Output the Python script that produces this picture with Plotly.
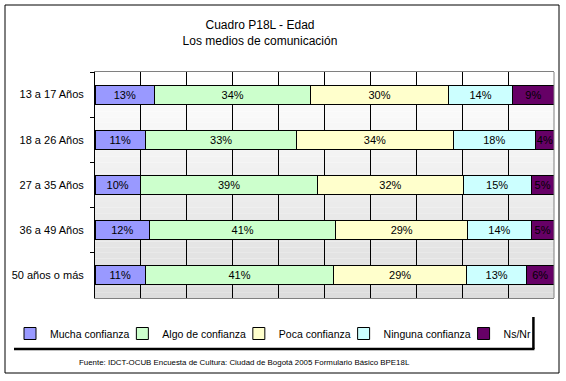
import plotly.graph_objects as go

categories = ["13 a 17 Años", "18 a 26 Años", "27 a 35 Años", "36 a 49 Años", "50 años o más"]
series_names = ["Mucha confianza", "Algo de confianza", "Poca confianza", "Ninguna confianza", "Ns/Nr"]
mucha = [13, 11, 10, 12, 11]
algo = [34, 33, 39, 41, 41]
poca = [30, 34, 32, 29, 29]
ninguna = [14, 18, 15, 14, 13]
nsnr = [9, 4, 5, 5, 6]
series_values = [mucha, algo, poca, ninguna, nsnr]
colors = ["#9999FF", "#CCFFCC", "#FFFFCC", "#CCFFFF", "#660066"]

W, H = 566, 381
ML, MR, MT, MB = 95, 12, 72, 83
PW, PH = W - ML - MR, H - MT - MB

def px_x(x):
    return (x - ML) / PW

def px_y(y):
    return (H - MB - y) / PH

FONT = "Arial, Liberation Sans, sans-serif"
LEG_FS = 10.5
# approximate Liberation Sans advance widths (em units) for legend text sizing
_adv = {"M": .833, "u": .556, "c": .5, "h": .556, "a": .556, " ": .278, "o": .556,
        "n": .556, "f": .278, "i": .222, "z": .5, "A": .667, "l": .222, "g": .556,
        "d": .556, "e": .556, "P": .667, "N": .722, "s": .5, "/": .278, "r": .333}

def text_w(s):
    return sum(_adv.get(ch, .556) for ch in s) * LEG_FS

def entry_w(s, last=False):
    return text_w(s) + 3 if last else max(text_w(s) - 12, 10)

fig = go.Figure()
for k, (name, vals, col) in enumerate(zip(series_names, series_values, colors)):
    fig.add_trace(go.Bar(
        y=categories, x=vals, name=name, orientation="h",
        marker=dict(color=col, line=dict(color="black", width=1)),
        text=[f"{v}%" for v in vals], textposition="inside",
        insidetextanchor="middle", textangle=0,
        textfont=dict(family=FONT, size=11, color="black"),
        width=0.42, legendwidth=entry_w(name, k == len(series_names) - 1),
    ))

LEG_L = 10
last_start = LEG_L + sum(entry_w(s) + 45 for s in series_names[:-1])
LEG_R = last_start + 40 + text_w(series_names[-1]) + 3

shapes = []
n = 40
for i in range(n):
    t = (i + 0.5) / n
    g = int(round(255 - (255 - 221) * t))
    shapes.append(dict(type="rect", xref="x domain", yref="y domain",
                       x0=0, x1=1, y0=1 - (i + 1) / n, y1=1 - i / n,
                       fillcolor=f"rgb({g},{g},{g})", line=dict(width=0), layer="below"))
shapes.append(dict(type="line", xref="x domain", yref="y domain", x0=1, x1=1, y0=0, y1=1,
                   line=dict(color="#808080", width=1)))
shapes.append(dict(type="rect", xref="paper", yref="paper",
                   x0=px_x(5), x1=px_x(559), y0=px_y(373), y1=px_y(5),
                   line=dict(color="black", width=1)))
# legend shadow
shapes.append(dict(type="line", xref="paper", yref="paper",
                   x0=px_x(LEG_L + 4), x1=px_x(LEG_R + 1), y0=px_y(349), y1=px_y(349),
                   line=dict(color="black", width=2.5)))
shapes.append(dict(type="line", xref="paper", yref="paper",
                   x0=px_x(LEG_R), x1=px_x(LEG_R), y0=px_y(317), y1=px_y(349),
                   line=dict(color="black", width=2.5)))

fig.update_layout(
    width=W, height=H,
    margin=dict(l=ML, r=MR, t=MT, b=MB, autoexpand=False),
    paper_bgcolor="white", plot_bgcolor="rgba(0,0,0,0)",
    barmode="stack", barnorm="percent",
    font=dict(family=FONT, size=11, color="black"),
    title=dict(text="Cuadro P18L - Edad<br>Los medios de comunicación",
               x=260 / W, xanchor="center", y=1 - 29 / H, yanchor="middle",
               font=dict(family=FONT, size=12, color="black")),
    uniformtext=dict(minsize=11, mode="show"),
    showlegend=True,
    legend=dict(orientation="h", x=px_x(LEG_L), xanchor="left",
                y=px_y(319), yanchor="top",
                font=dict(family=FONT, size=LEG_FS, color="black"),
                traceorder="normal", itemwidth=30,
                bgcolor="rgba(0,0,0,0)"),
    shapes=shapes,
    annotations=[dict(text="Fuente: IDCT-OCUB Encuesta de Cultura: Ciudad de Bogotá 2005 Formulario Básico BPE18L",
                      xref="paper", yref="paper", x=px_x(244), y=px_y(362),
                      xanchor="center", yanchor="middle", showarrow=False,
                      font=dict(family=FONT, size=7.9, color="black"))],
)
fig.update_xaxes(range=[0, 100], dtick=10, showticklabels=False, ticks="",
                 showgrid=True, gridcolor="black", gridwidth=1,
                 showline=True, linecolor="#808080", linewidth=1, mirror=True,
                 zeroline=False, fixedrange=True, automargin=False)
fig.update_yaxes(autorange="reversed", type="category", tickson="boundaries",
                 ticks="outside", ticklen=4, tickcolor="black",
                 showline=True, linecolor="black", linewidth=1,
                 showgrid=False, ticklabelstandoff=8, automargin=False,
                 tickfont=dict(family=FONT, size=11, color="black"))

fig.write_html("out.html", config={"displayModeBar": False},
               post_script="document.body.style.margin='0';document.body.style.padding='0';")
